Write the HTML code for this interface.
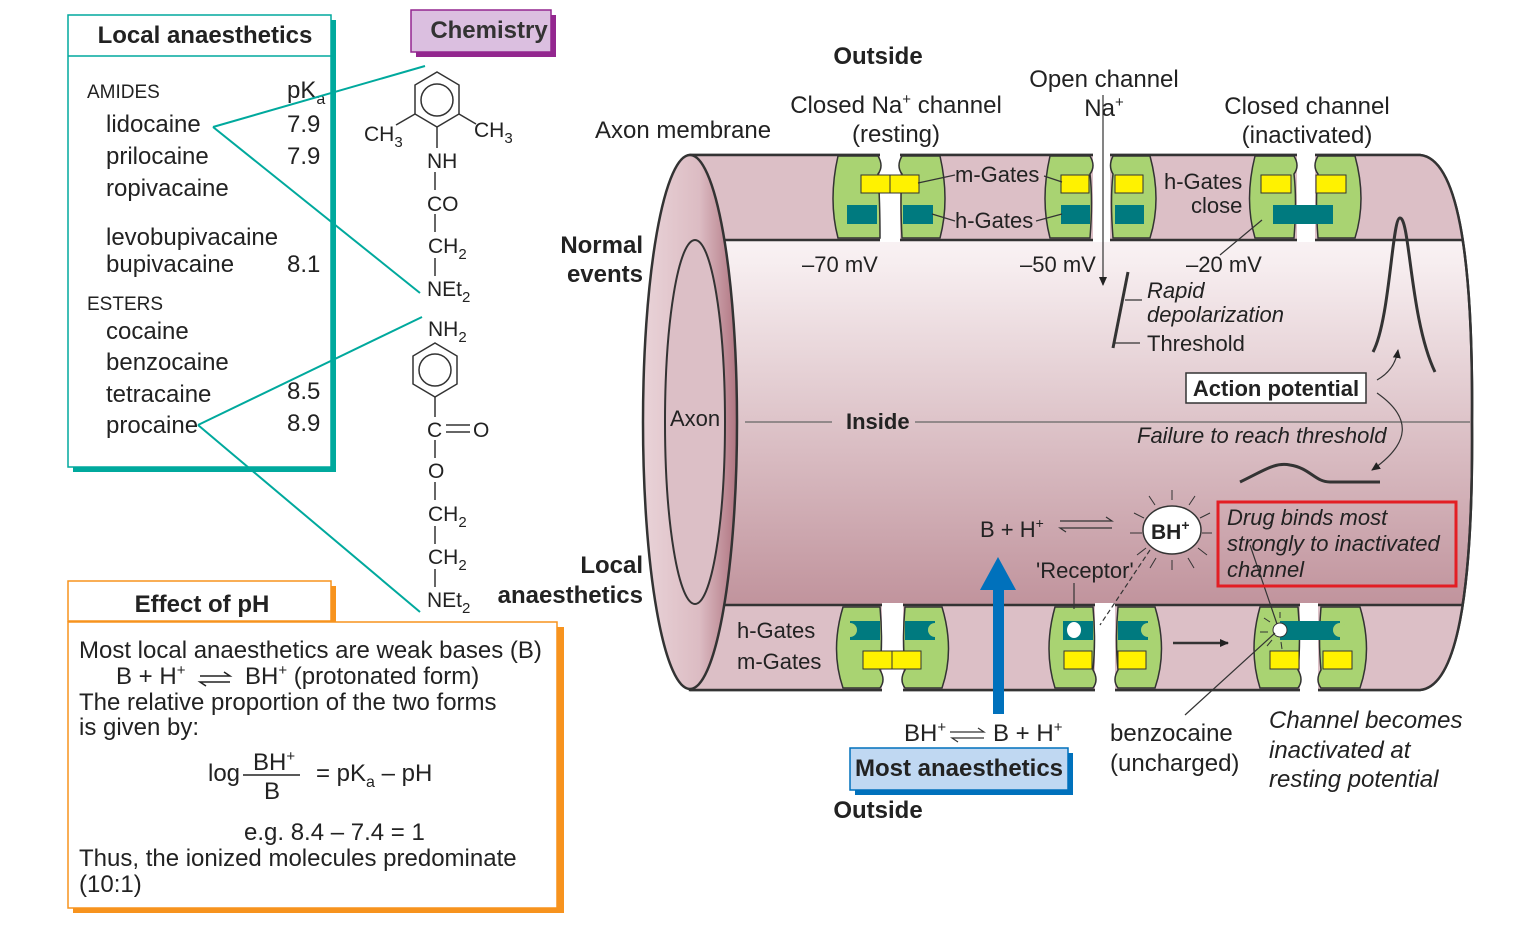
<!DOCTYPE html>
<html><head><meta charset="utf-8"><style>
body{margin:0;background:#fff;}
svg{display:block;font-family:"Liberation Sans",Arial,sans-serif;}
</style></head><body>
<svg width="1540" height="931" viewBox="0 0 1540 931" xmlns="http://www.w3.org/2000/svg">
<defs>
<linearGradient id="ins" x1="0" y1="0" x2="0" y2="1">
<stop offset="0" stop-color="#ffffff"/><stop offset="0.2" stop-color="#f7eef0"/><stop offset="1" stop-color="#b37d88"/>
</linearGradient>
<linearGradient id="lf" x1="0" y1="0" x2="1" y2="0">
<stop offset="0" stop-color="#e9d3d8"/><stop offset="0.6" stop-color="#dcbcc3"/><stop offset="1" stop-color="#b07581"/>
</linearGradient>
<marker id="ah" markerWidth="10" markerHeight="10" refX="8" refY="5" orient="auto" markerUnits="userSpaceOnUse"><path d="M0,1 L9,5 L0,9 Z" fill="#222"/></marker>
</defs>

<!-- Left boxes -->
<rect x="73" y="20" width="263" height="452" fill="#00a99d"/>
<rect x="68" y="15" width="263" height="452" fill="#fff" stroke="#00a99d" stroke-width="1.5"/>
<line x1="68" y1="56" x2="331" y2="56" stroke="#00a99d" stroke-width="1.5"/>
<text x="205" y="43" font-size="24" font-weight="bold" text-anchor="middle" fill="#222">Local anaesthetics</text>
<g font-size="19" fill="#222"><text x="87" y="98">AMIDES</text><text x="87" y="310">ESTERS</text></g>
<g font-size="24" fill="#222">
<text x="106" y="132">lidocaine</text><text x="106" y="164">prilocaine</text><text x="106" y="196">ropivacaine</text>
<text x="106" y="245">levobupivacaine</text><text x="106" y="272">bupivacaine</text>
<text x="106" y="339">cocaine</text><text x="106" y="370">benzocaine</text><text x="106" y="402">tetracaine</text><text x="106" y="433">procaine</text>
<text x="287" y="98">pK<tspan font-size="16" dy="6">a</tspan></text>
<text x="287" y="132">7.9</text><text x="287" y="164">7.9</text><text x="287" y="272">8.1</text><text x="287" y="399">8.5</text><text x="287" y="431">8.9</text>
</g>
<g stroke="#00a99d" stroke-width="2" fill="none">
<line x1="213" y1="127" x2="425" y2="66"/><line x1="213" y1="127" x2="420" y2="293"/>
<line x1="198" y1="425" x2="422" y2="317"/><line x1="198" y1="425" x2="420" y2="612"/>
</g>

<rect x="73" y="586" width="263" height="40" fill="#f7931e"/>
<rect x="68" y="581" width="263" height="40" fill="#fff" stroke="#f7931e" stroke-width="1.5"/>
<text x="202" y="612" font-size="24" font-weight="bold" text-anchor="middle" fill="#222">Effect of pH</text>
<rect x="73" y="627" width="491" height="286" fill="#f7931e"/>
<rect x="68" y="622" width="489" height="286" fill="#fff" stroke="#f7931e" stroke-width="1.5"/>
<g font-size="24" fill="#222">
<text x="79" y="658">Most local anaesthetics are weak bases (B)</text>
<text x="116" y="684">B + H<tspan font-size="15" dy="-9">+</tspan></text>
<text x="245" y="684">BH<tspan font-size="15" dy="-9">+</tspan><tspan dy="9"> (protonated form)</tspan></text>
<text x="79" y="710">The relative proportion of the two forms</text>
<text x="79" y="735">is given by:</text>
<text x="208" y="781">log</text>
<text x="253" y="770">BH<tspan font-size="15" dy="-9">+</tspan></text>
<text x="264" y="799">B</text>
<text x="316" y="781">= pK<tspan font-size="16" dy="6">a</tspan><tspan dy="-6"> – pH</tspan></text>
<text x="244" y="840">e.g. 8.4 – 7.4 = 1</text>
<text x="79" y="866">Thus, the ionized molecules predominate</text>
<text x="79" y="892">(10:1)</text>
</g>
<line x1="243" y1="775" x2="300" y2="775" stroke="#222" stroke-width="1.5"/>
<g stroke="#222" stroke-width="1.5" fill="none"><path d="M200,676 H230 L224,672"/><path d="M230,682 H200 L206,686"/></g>

<!-- Chemistry -->
<rect x="416" y="15" width="140" height="42" fill="#93278f"/>
<rect x="411" y="10" width="140" height="42" fill="#dbbfe0" stroke="#93278f" stroke-width="1.5"/>
<text x="489" y="38" font-size="24" font-weight="bold" text-anchor="middle" fill="#333">Chemistry</text>
<g stroke="#333" stroke-width="1.5" fill="none">
<polygon points="437,72 459,85 459,114 437,127 415,114 415,85"/><circle cx="437" cy="100" r="16"/>
<line x1="415" y1="114" x2="396" y2="125"/><line x1="459" y1="114" x2="476" y2="124"/>
<line x1="437" y1="127" x2="437" y2="148"/><line x1="435" y1="172" x2="435" y2="190"/>
<line x1="435" y1="214" x2="435" y2="232"/><line x1="435" y1="258" x2="435" y2="276"/>
<polygon points="435,343 457,356 457,384 435,397 413,384 413,356"/><circle cx="435" cy="370" r="16"/>
<line x1="435" y1="397" x2="435" y2="417"/><line x1="435" y1="440" x2="435" y2="458"/>
<line x1="435" y1="482" x2="435" y2="500"/><line x1="435" y1="526" x2="435" y2="544"/><line x1="435" y1="569" x2="435" y2="587"/>
<line x1="446" y1="425" x2="470" y2="425"/><line x1="446" y1="432" x2="470" y2="432"/>
</g>
<g font-size="21" fill="#222">
<text x="364" y="141">CH<tspan font-size="15" dy="6">3</tspan></text>
<text x="474" y="137">CH<tspan font-size="15" dy="6">3</tspan></text>
<text x="427" y="168">NH</text><text x="427" y="211">CO</text>
<text x="428" y="253">CH<tspan font-size="15" dy="6">2</tspan></text>
<text x="427" y="296">NEt<tspan font-size="15" dy="6">2</tspan></text>
<text x="428" y="336">NH<tspan font-size="15" dy="6">2</tspan></text>
<text x="427" y="437">C</text><text x="473" y="437">O</text><text x="428" y="478">O</text>
<text x="428" y="521">CH<tspan font-size="15" dy="6">2</tspan></text>
<text x="428" y="564">CH<tspan font-size="15" dy="6">2</tspan></text>
<text x="427" y="607">NEt<tspan font-size="15" dy="6">2</tspan></text>
</g>

<!-- Cylinder -->
<path d="M690,155 H1420 Q1474,160 1472,422 Q1474,685 1420,690 H690 Z" fill="url(#ins)" stroke="#333" stroke-width="2.5"/>
<path d="M690,155 H1420 Q1452,157 1462,240 H690 Z" fill="#dcbfc6"/>
<path d="M690,605 H1462 Q1452,688 1420,690 H690 Z" fill="#dcbfc6"/>
<path d="M690,155 H1420 Q1474,160 1472,422 Q1474,685 1420,690 H690" fill="none" stroke="#333" stroke-width="2.5"/>
<line x1="720" y1="240" x2="1462" y2="240" stroke="#333" stroke-width="2.5"/>
<line x1="720" y1="605" x2="1462" y2="605" stroke="#333" stroke-width="2.5"/>
<ellipse cx="690" cy="422" rx="47" ry="267" fill="url(#lf)" stroke="#333" stroke-width="2.5"/>
<ellipse cx="695" cy="422" rx="30" ry="182" fill="#dcbfc6" stroke="#333" stroke-width="2"/>
<line x1="745" y1="422" x2="832" y2="422" stroke="#666" stroke-width="1.2"/>
<line x1="915" y1="422" x2="1470" y2="422" stroke="#666" stroke-width="1.2"/>

<g fill="#fff"><rect x="880" y="150" width="20" height="92"/><rect x="1093" y="150" width="17" height="92"/><rect x="1297" y="150" width="18" height="92"/>
<rect x="882" y="603" width="21" height="92"/><rect x="1095" y="603" width="20" height="92"/><rect x="1300" y="603" width="18" height="92"/></g>
<g fill="#a9d372" stroke="#333" stroke-width="1.5">
<path d="M838,156 H878 Q884,166 878,174 Q880,200 880,238 H838 Q828,200 838,156Z"/>
<path d="M902,156 H940 Q950,200 940,238 H902 Q900,200 902,174 Q896,166 902,156Z"/>
<path d="M1050,156 H1090 Q1096,166 1090,174 Q1093,200 1090,238 H1050 Q1040,200 1050,156Z"/>
<path d="M1113,156 H1150 Q1162,200 1150,238 H1113 Q1110,200 1113,174 Q1108,166 1113,156Z"/>
<path d="M1255,156 H1294 Q1300,166 1294,174 Q1297,200 1294,238 H1255 Q1244,200 1255,156Z"/>
<path d="M1318,156 H1355 Q1367,200 1355,238 H1318 Q1315,200 1318,174 Q1312,166 1318,156Z"/>
<path d="M843,607 H880 Q883,640 880,670 Q886,680 880,688 H843 Q830,650 843,607Z"/>
<path d="M905,607 H942 Q955,650 942,688 H905 Q899,680 905,670 Q902,640 905,607Z"/>
<path d="M1055,607 H1093 Q1096,640 1093,670 Q1099,680 1093,688 H1055 Q1043,650 1055,607Z"/>
<path d="M1118,607 H1155 Q1168,650 1155,688 H1118 Q1112,680 1118,670 Q1115,640 1118,607Z"/>
<path d="M1260,607 H1298 Q1301,640 1298,670 Q1304,680 1298,688 H1260 Q1248,650 1260,607Z"/>
<path d="M1321,607 H1360 Q1373,650 1360,688 H1321 Q1315,680 1321,670 Q1318,640 1321,607Z"/>
</g>
<g fill="#fff200" stroke="#333" stroke-width="1">
<rect x="861" y="175" width="29" height="18"/><rect x="890" y="175" width="29" height="18"/>
<rect x="1061" y="175" width="28" height="18"/><rect x="1115" y="175" width="28" height="18"/>
<rect x="1261" y="175" width="30" height="18"/><rect x="1316" y="175" width="30" height="18"/>
<rect x="863" y="651" width="29" height="18"/><rect x="892" y="651" width="29" height="18"/>
<rect x="1064" y="651" width="28" height="18"/><rect x="1118" y="651" width="28" height="18"/>
<rect x="1270" y="651" width="29" height="18"/><rect x="1323" y="651" width="29" height="18"/>
</g>
<g fill="#007a7f">
<rect x="847" y="205" width="30" height="19"/><rect x="903" y="205" width="30" height="19"/>
<rect x="1061" y="205" width="29" height="19"/><rect x="1115" y="205" width="29" height="19"/>
<rect x="1273" y="205" width="60" height="19"/>
<rect x="850" y="621" width="30" height="19"/><rect x="905" y="621" width="30" height="19"/>
<rect x="1063" y="621" width="30" height="19"/><rect x="1118" y="621" width="30" height="19"/>
<rect x="1280" y="621" width="60" height="19"/>
</g>
<g fill="#a9d372"><circle cx="850" cy="630" r="7"/><circle cx="935" cy="630" r="7"/><circle cx="1148" cy="630" r="7"/><circle cx="1340" cy="630" r="7"/></g>
<ellipse cx="1074" cy="630" rx="7" ry="8" fill="#fff"/>
<circle cx="1280" cy="630" r="7" fill="#fff" stroke="#333" stroke-width="1"/>
<g stroke="#333" stroke-width="1"><line x1="1280" y1="618" x2="1280" y2="612"/><line x1="1270" y1="622" x2="1264" y2="618"/><line x1="1268" y1="632" x2="1260" y2="632"/><line x1="1272" y1="640" x2="1267" y2="646"/><line x1="1281" y1="642" x2="1282" y2="649"/></g>
<line x1="1173" y1="643" x2="1228" y2="643" stroke="#333" stroke-width="2.5" marker-end="url(#ah)"/>

<g stroke="#333" stroke-width="1.2" fill="none">
<line x1="918" y1="183" x2="955" y2="175"/><line x1="1044" y1="176" x2="1062" y2="182"/>
<line x1="932" y1="214" x2="955" y2="221"/><line x1="1036" y1="221" x2="1062" y2="214"/>
<line x1="1262" y1="220" x2="1220" y2="255"/>
<line x1="1103" y1="95" x2="1103" y2="285" marker-end="url(#ah)"/>
<path d="M1128,272 L1113,348" stroke-width="3"/>
<line x1="1125" y1="300" x2="1142" y2="300"/><line x1="1113" y1="343" x2="1140" y2="343"/>
<path d="M1373,352 C1390,320 1392,218 1400,218 C1410,218 1410,320 1435,372" stroke-width="3"/>
<path d="M1240,482 C1265,470 1275,462 1290,465 C1310,468 1315,482 1330,482 H1380" stroke-width="3"/>
<path d="M1377,380 Q1395,370 1398,350" marker-end="url(#ah)"/>
<path d="M1377,393 Q1430,430 1372,470" marker-end="url(#ah)"/>
<line x1="1074" y1="609" x2="1074" y2="583"/>
<path d="M1150,550 L1100,625" stroke-dasharray="5,3"/>
<line x1="1250" y1="545" x2="1277" y2="624"/>
<line x1="1275" y1="633" x2="1185" y2="715"/>
<path d="M1060,521 H1112 L1106,517"/><path d="M1112,528 H1060 L1066,532"/>
<path d="M950,732 H984 L978,728"/><path d="M984,738 H952 L958,742"/>
</g>
<g stroke="#333" stroke-width="1"><line x1="1172" y1="500" x2="1172" y2="490"/><line x1="1189" y1="505" x2="1195" y2="496"/><line x1="1155" y1="505" x2="1149" y2="496"/><line x1="1200" y1="518" x2="1210" y2="513"/><line x1="1144" y1="518" x2="1134" y2="513"/><line x1="1202" y1="533" x2="1212" y2="533"/><line x1="1142" y1="533" x2="1130" y2="533"/><line x1="1198" y1="548" x2="1207" y2="555"/><line x1="1146" y1="548" x2="1137" y2="555"/><line x1="1172" y1="560" x2="1172" y2="570"/><line x1="1188" y1="558" x2="1194" y2="568"/><line x1="1156" y1="558" x2="1150" y2="568"/></g>
<ellipse cx="1172" cy="530" rx="29" ry="24" fill="#fff" stroke="#333" stroke-width="1.5"/>
<text x="1151" y="539" font-size="21" font-weight="bold" fill="#222">BH<tspan font-size="14" dy="-9">+</tspan></text>

<rect x="993" y="588" width="11" height="126" fill="#0071bc"/>
<polygon points="998,557 1016,590 980,590" fill="#0071bc"/>

<rect x="1218" y="502" width="238" height="84" fill="none" stroke="#e31e24" stroke-width="3"/>
<rect x="855" y="753" width="218" height="42" fill="#0071bc"/>
<rect x="850" y="748" width="218" height="42" fill="#c0d8f2" stroke="#0071bc" stroke-width="1.5"/>
<rect x="1186" y="373" width="180" height="30" fill="#fff" stroke="#333" stroke-width="1.5"/>

<g font-size="24" fill="#222">
<text x="878" y="64" font-weight="bold" text-anchor="middle">Outside</text>
<text x="1104" y="87" text-anchor="middle">Open channel</text>
<text x="1104" y="116" text-anchor="middle">Na<tspan font-size="15" dy="-9">+</tspan></text>
<text x="896" y="113" text-anchor="middle">Closed Na<tspan font-size="15" dy="-9">+</tspan><tspan dy="9"> channel</tspan></text>
<text x="896" y="142" text-anchor="middle">(resting)</text>
<text x="1307" y="114" text-anchor="middle">Closed channel</text>
<text x="1307" y="143" text-anchor="middle">(inactivated)</text>
<text x="595" y="138">Axon membrane</text>
<text x="643" y="253" font-weight="bold" text-anchor="end">Normal</text>
<text x="643" y="282" font-weight="bold" text-anchor="end">events</text>
<text x="643" y="573" font-weight="bold" text-anchor="end">Local</text>
<text x="643" y="603" font-weight="bold" text-anchor="end">anaesthetics</text>
<text x="878" y="818" font-weight="bold" text-anchor="middle">Outside</text>
<text x="959" y="776" font-weight="bold" text-anchor="middle">Most anaesthetics</text>
</g>
<g font-size="22" fill="#222">
<text x="955" y="182">m-Gates</text><text x="955" y="228">h-Gates</text>
<text x="1164" y="189">h-Gates</text><text x="1191" y="213">close</text>
<text x="802" y="272">–70 mV</text><text x="1020" y="272">–50 mV</text><text x="1186" y="272">–20 mV</text>
<text x="1147" y="298" font-style="italic">Rapid</text><text x="1147" y="322" font-style="italic">depolarization</text>
<text x="1147" y="351">Threshold</text>
<text x="1276" y="396" text-anchor="middle" font-weight="bold">Action potential</text>
<text x="670" y="426">Axon</text><text x="846" y="429" font-weight="bold">Inside</text>
<text x="1137" y="443" font-style="italic">Failure to reach threshold</text>
<text x="980" y="537">B + H<tspan font-size="14" dy="-9">+</tspan></text>
<text x="1227" y="525" font-style="italic">Drug binds most</text>
<text x="1227" y="551" font-style="italic">strongly to inactivated</text>
<text x="1227" y="577" font-style="italic">channel</text>
<text x="1036" y="578">'Receptor'</text>
<text x="737" y="638">h-Gates</text><text x="737" y="669">m-Gates</text>
</g>
<g font-size="24" fill="#222">
<text x="904" y="741">BH<tspan font-size="15" dy="-9">+</tspan></text>
<text x="993" y="741">B + H<tspan font-size="15" dy="-9">+</tspan></text>
<text x="1110" y="741">benzocaine</text><text x="1110" y="771">(uncharged)</text>
<text x="1269" y="728" font-style="italic">Channel becomes</text>
<text x="1269" y="758" font-style="italic">inactivated at</text>
<text x="1269" y="787" font-style="italic">resting potential</text>
</g>
</svg>
</body></html>
